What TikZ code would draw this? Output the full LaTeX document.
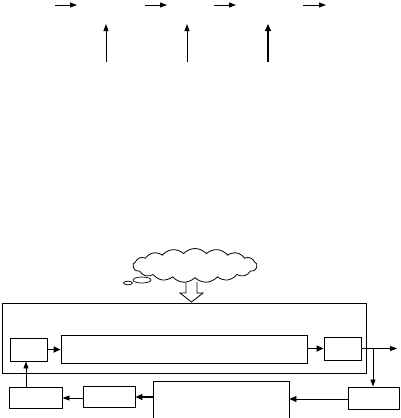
\documentclass[tikz,border=0pt]{standalone}
\usetikzlibrary{arrows.meta,shapes.symbols}
\tikzset{
  box/.style={draw, line width=0.9pt, inner sep=0pt},
  thinarr/.style={line width=0.8pt, -{Triangle[length=7pt,width=5pt]}},
  thickarr/.style={line width=1.6pt, -{Triangle[length=7pt,width=6pt]}},
}
\begin{document}
\begin{tikzpicture}[x=1pt,y=-1pt]
\useasboundingbox (0,0) rectangle (400,418);
% top arrows
\foreach \n/\a/\b in {1/55/77,2/145/167,3/214/236,4/303/326}{
  \coordinate (h\n s) at (\a,5);
  \coordinate (h\n e) at (\b,5);
  \draw[thinarr] (h\n s) -- (h\n e);
}
\coordinate (v1s) at (106,62); \coordinate (v1e) at (106,24);
\coordinate (v2s) at (187,62); \coordinate (v2e) at (187,24);
\coordinate (v3s) at (268,62); \coordinate (v3e) at (268,24);
\draw[thinarr] (v1s) -- (v1e);
\draw[thinarr] (v2s) -- (v2e);
\draw[line width=1.5pt, -{Triangle[length=7pt,width=6pt]}] (v3s) -- (v3e);
% cloud
\node[cloud, draw, line width=0.8pt, cloud puffs=17, cloud puff arc=95,
  cloud ignores aspect, minimum width=124pt, minimum height=34pt, inner sep=0pt] (cloud) at (195,265.5) {};
\draw[line width=0.7pt, fill=white] (142,280) ellipse (9pt and 3pt);
\draw[line width=0.7pt, fill=white] (128,283) ellipse (4.5pt and 1.8pt);
% hollow arrow
\draw[line width=0.8pt, fill=white] (186,282) -- (186,293) -- (180,293) -- (191.5,302) -- (203,293) -- (197,293) -- (197,282);
% boxes
\node[box, minimum width=364pt, minimum height=70pt] (big) at (184,338) {};
\node[box, minimum width=37pt, minimum height=23pt] (L1) at (28.5,349.5) {};
\node[box, minimum width=246pt, minimum height=28pt] (long) at (184,349) {};
\node[box, minimum width=37pt, minimum height=23pt] (R1) at (342.5,348.5) {};
\node[box, minimum width=51pt, minimum height=22pt] (BR) at (373.5,398) {};
\node[box, minimum width=136pt, minimum height=37pt] (BM) at (221,399.5) {};
\node[box, minimum width=52pt, minimum height=21pt] (B2) at (109,396.5) {};
\node[box, minimum width=53pt, minimum height=21pt] (BL) at (35.5,397.5) {};
% connectors
\draw[thickarr] (L1.east |- 0,349.5) -- (long.west |- 0,349.5);
\draw[thickarr] (long.east |- 0,348.5) -- (R1.west |- 0,348.5);
\coordinate (out) at (397,348.5);
\coordinate (br) at (373,348.5);
\draw[thinarr] (R1.east) -- (out);
\draw[thinarr] (br) -- (br |- BR.north);
\draw[line width=0.8pt, -{Triangle[length=7pt,width=6pt]}] (BR.west |- 0,399) -- (BM.east |- 0,399);
\draw[thickarr] (BM.west |- 0,397) -- (B2.east |- 0,397);
\draw[thinarr] (B2.west |- 0,398) -- (BL.east |- 0,398);
\draw[thinarr] (BL.north -| 26,0) -- (L1.south -| 26,0);
\end{tikzpicture}
\end{document}
